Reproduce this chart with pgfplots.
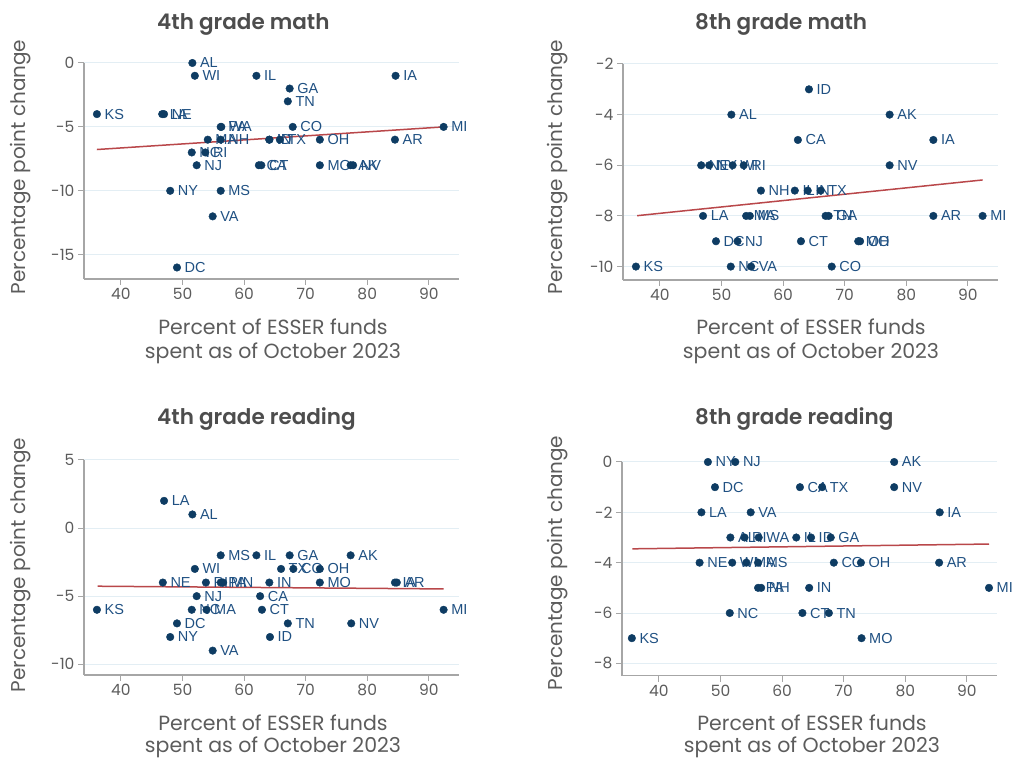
\documentclass[border=0pt]{standalone}
\usepackage{fontspec}
\usepackage{pgfplots}
\usepackage{pgfplotstable}
\pgfplotsset{compat=1.18}
\setmainfont{Poppins}
\newfontfamily\titlefont{Poppins SemiBold}
\newfontfamily\labelfont{Liberation Sans}

\definecolor{dotblue}{HTML}{0E3C63}
\definecolor{labblue}{HTML}{1F5082}
\definecolor{fitred}{HTML}{B9474A}
\definecolor{gridblue}{HTML}{E3EEF4}
\definecolor{axisgray}{HTML}{A6A6A6}
\definecolor{titlegray}{HTML}{4D4D4D}
\definecolor{textgray}{HTML}{5C5C5C}

% x = percent of ESSER funds spent, y = percentage point change, st = state
\pgfplotstableread{
x y st
36.1 -4 KS
46.7 -4 LA
47.0 -4 NE
48.0 -10 NY
49.1 -16 DC
51.5 -7 NC
51.6 0 AL
52.0 -1 WI
52.3 -8 NJ
53.7 -7 RI
54.1 -6 MA
54.9 -12 VA
56.2 -5 PA
56.3 -5 WA
56.2 -6 NH
56.2 -10 MS
62.0 -1 IL
62.4 -8 CA
62.8 -8 CT
64.1 -6 IN
64.1 -6 ID
65.8 -6 TX
67.4 -2 GA
67.1 -3 TN
67.9 -5 CO
72.3 -6 OH
72.3 -8 MO
77.3 -8 AK
77.7 -8 NV
84.6 -1 IA
84.5 -6 AR
92.4 -5 MI
}\mathfour

\pgfplotstableread{
x y st
64.2 -3 ID
51.6 -4 AL
77.3 -4 AK
62.4 -5 CA
84.4 -5 IA
46.7 -6 NE
48.0 -6 NY
51.8 -6 WI
53.6 -6 RI
77.3 -6 NV
56.4 -7 NH
61.9 -7 IL
64.0 -7 IN
66.1 -7 TX
47.0 -8 LA
54.0 -8 MA
54.6 -8 MS
66.9 -8 TN
67.4 -8 GA
84.4 -8 AR
92.4 -8 MI
49.1 -9 DC
52.6 -9 NJ
62.9 -9 CT
72.2 -9 MO
72.5 -9 OH
36.1 -10 KS
51.5 -10 NC
54.8 -10 VA
67.9 -10 CO
}\matheight

\pgfplotstableread{
x y st
47.0 2 LA
51.6 1 AL
56.2 -2 MS
62.0 -2 IL
67.4 -2 GA
77.3 -2 AK
52.0 -3 WI
66.0 -3 TX
68.0 -3 CO
72.3 -3 OH
46.8 -4 NE
53.8 -4 RI
56.2 -4 PA
56.6 -4 MN
64.1 -4 IN
72.3 -4 MO
84.5 -4 IA
84.8 -4 AR
52.3 -5 NJ
62.6 -5 CA
36.1 -6 KS
51.5 -6 NC
53.9 -6 MA
62.9 -6 CT
92.4 -6 MI
49.1 -7 DC
67.1 -7 TN
77.4 -7 NV
48.0 -8 NY
64.2 -8 ID
54.9 -9 VA
}\readfour

\pgfplotstableread{
x y st
47.95 0 NY
52.4 0 NJ
78.2 0 AK
49.1 -1 DC
62.9 -1 CA
66.5 -1 TX
78.2 -1 NV
46.9 -2 LA
54.9 -2 VA
85.6 -2 IA
51.6 -3 AL
53.9 -3 RI
56.2 -3 WA
62.3 -3 IL
64.7 -3 ID
67.9 -3 GA
46.6 -4 NE
51.9 -4 WI
54.2 -4 MA
56.1 -4 MS
68.4 -4 CO
72.8 -4 OH
85.5 -4 AR
56.1 -5 PA
56.6 -5 NH
64.4 -5 IN
93.6 -5 MI
51.5 -6 NC
63.3 -6 CT
67.6 -6 TN
35.6 -7 KS
72.9 -7 MO
}\readeight

\pgfplotsset{
  esser/.style={
    scale only axis, width=375pt, height=216pt,
    xmin=34, xmax=94.9,
    axis x line*=bottom, axis y line*=left,
    axis line style={draw=axisgray, line width=1.2pt, -},
    tick align=outside, major tick length=6pt,
    tick style={draw=axisgray, line width=1pt},
    xtick={40,50,...,90}, xticklabels={40,50,60,70,80,90},
    tick label style={font=\fontsize{15.5}{15.5}\selectfont, text=textgray},
    ymajorgrids, grid style={draw=gridblue, line width=1pt},
    clip=false,
  },
  pts/.style={only marks, mark=*, mark size=3.8pt, color=dotblue,
    nodes near coords, point meta=explicit symbolic,
    every node near coord/.append style={anchor=west, xshift=7.5pt,
      font=\labelfont\fontsize{14.5}{14.5}\selectfont, text=labblue, inner sep=0pt}},
  fit/.style={no marks, draw=fitred, line width=1.5pt},
}

\newcommand\paneltitle[2]{\node[anchor=base west, inner sep=0pt, text=titlegray,
  font=\titlefont\fontsize{21.5}{21.5}\selectfont] at (#1) {#2};}
\newcommand\ylab[1]{\node[rotate=90, inner sep=0pt, text=textgray,
  font=\fontsize{20}{20}\selectfont] at (#1) {Percentage point change};}
\newcommand\xlab[3]{%
  \node[anchor=base, inner sep=0pt, text=textgray, font=\fontsize{20.5}{20.5}\selectfont]
    at (#1pt,#2pt) {Percent of ESSER funds};
  \node[anchor=base, inner sep=0pt, text=textgray, font=\fontsize{20.5}{20.5}\selectfont]
    at (#1pt,#3pt) {spent as of October 2023};}

\begin{document}
\begin{tikzpicture}[x=1pt,y=1pt]
\path[use as bounding box] (0,0) rectangle (1013,759);

% 4th grade math
\begin{axis}[esser, at={(84pt,480pt)}, anchor=south west, height=216pt,
  ymin=-16.9, ymax=0, ytick={-15,-10,-5,0}, yticklabels={-15,-10,-5,0}]
\addplot[pts] table[x=x, y=y, meta=st] {\mathfour};
\addplot[fit] coordinates {(36.1,-6.77) (92.4,-5.0)};
\end{axis}
\paneltitle{157,729}{4th grade math}
\ylab{21,592}
\xlab{273}{424}{400}

% 8th grade math
\begin{axis}[esser, at={(623pt,479pt)}, anchor=south west, height=216pt,
  ymin=-10.53, ymax=-2, ytick={-10,-8,-6,-4,-2}, yticklabels={-10,-8,-6,-4,-2}]
\addplot[pts] table[x=x, y=y, meta=st] {\matheight};
\addplot[fit] coordinates {(36.3,-7.99) (92.4,-6.58)};
\end{axis}
\paneltitle{695,729}{8th grade math}
\ylab{558,592}
\xlab{811}{424}{400}

% 4th grade reading
\begin{axis}[esser, at={(84pt,84pt)}, anchor=south west, height=215pt,
  ymin=-10.79, ymax=5, ytick={-10,-5,0,5}, yticklabels={-10,-5,0,5}]
\addplot[pts] table[x=x, y=y, meta=st] {\readfour};
\addplot[fit] coordinates {(36.2,-4.27) (92.4,-4.47)};
\end{axis}
\paneltitle{157,334}{4th grade reading}
\ylab{21,194}
\xlab{273}{28}{6}

% 8th grade reading
\begin{axis}[esser, at={(622pt,83.3pt)}, anchor=south west, height=213.7pt,
  ymin=-8.49, ymax=0, ytick={-8,-6,-4,-2,0}, yticklabels={-8,-6,-4,-2,0}]
\addplot[pts] table[x=x, y=y, meta=st] {\readeight};
\addplot[fit] coordinates {(35.7,-3.45) (93.6,-3.26)};
\end{axis}
\paneltitle{695,334}{8th grade reading}
\ylab{558,196}
\xlab{812}{28}{6}
\end{tikzpicture}
\end{document}
